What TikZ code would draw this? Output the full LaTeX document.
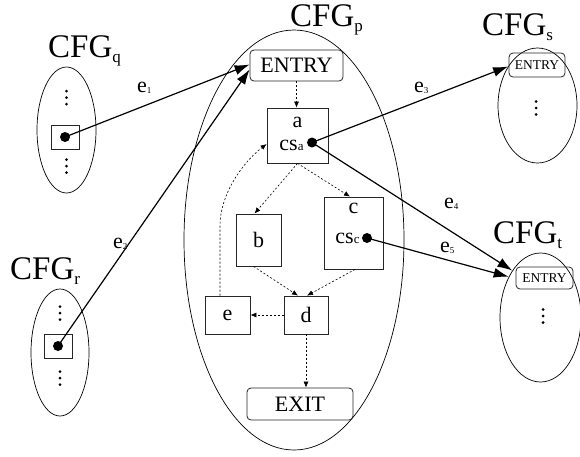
\documentclass[tikz,border=0pt]{standalone}
\usepackage{fontspec}
\setmainfont{Liberation Serif}
\usepackage{tikz}
\usetikzlibrary{arrows.meta,shapes.geometric}

\newcommand{\cfgname}[1]{{\fontsize{33}{33}\selectfont CFG\raisebox{-5pt}{\fontsize{17}{17}\selectfont #1}}}
\newcommand{\edgename}[1]{{\fontsize{22}{22}\selectfont e\raisebox{-1pt}{\fontsize{9}{9}\selectfont #1}}}
\newcommand{\callsite}[1]{cs{\fontsize{13}{13}\selectfont #1}\kern12pt\relax}
\newcommand{\vdotsat}[1]{\foreach \dy in {-6.5,0,6.5} \fill ([yshift=\dy pt]#1) circle (1.5pt);}

\tikzset{
  blk/.style={draw=black!85, line width=0.8pt, inner sep=0pt, font=\fontsize{22}{24}\selectfont},
  rblk/.style={blk, rounded corners=4pt},
  cfg/.style={draw, ellipse, line width=0.7pt, inner sep=0pt},
  lbl/.style={inner sep=0pt, anchor=base west},
  flow/.style={line width=0.6pt, dash pattern=on 2pt off 2pt, -{Latex[length=6pt,width=5pt]}},
  call/.style={line width=1.2pt, -{Latex[length=15pt,width=10pt]}}
}

\begin{document}
\begin{tikzpicture}[x=1pt,y=-1pt]
\useasboundingbox (0,0) rectangle (580,456);

\node[cfg, minimum width=220, minimum height=420] (cfgp) at (294,240) {};
\node[cfg, minimum width=59, minimum height=126] (cfgq) at (66.5,130) {};
\node[cfg, minimum width=58, minimum height=127] (cfgr) at (60,352.5) {};
\node[cfg, minimum width=79, minimum height=115] (cfgs) at (537.5,105.5) {};
\node[cfg, minimum width=81, minimum height=129] (cfgt) at (540.5,317.5) {};

\node[lbl] (namep) at (290,26) {\cfgname{p}};
\node[lbl] (nameq) at (48,57) {\cfgname{q}};
\node[lbl] (namer) at (10,279) {\cfgname{r}};
\node[lbl] (names) at (482,35) {\cfgname{s}};
\node[lbl] (namet) at (493,243) {\cfgname{t}};

\node[rblk, minimum width=93, minimum height=31] (pentry) at (296.5,65.5) {ENTRY};
\node[rblk, minimum width=106, minimum height=32] (pexit) at (300,404) {EXIT};
\node[rblk, minimum width=56, minimum height=24, font=\fontsize{13.5}{14}\selectfont] (sentry) at (537,65) {ENTRY};
\node[rblk, minimum width=57, minimum height=22, font=\fontsize{13.5}{14}\selectfont] (tentry) at (544.5,278) {ENTRY};

\node[blk, minimum width=61, minimum height=55, align=center] (a) at (297.5,135.5) {a\\[-1pt]\callsite{a}\\[-20pt]{}};
\node[blk, minimum width=45, minimum height=52] (b) at (258.5,240) {b};
\node[blk, minimum width=59, minimum height=72, align=center] (c) at (353.5,233) {c\\[6pt]\callsite{c}\\[-4pt]{}};
\node[blk, minimum width=44, minimum height=38] (d) at (306,315) {d};
\node[blk, minimum width=45, minimum height=38] (e) at (227.5,315) {e};

\node[blk, minimum width=28, minimum height=24] (qbox) at (65,137) {};
\node[blk, minimum width=28, minimum height=24] (rbox) at (58,346) {};

\coordinate (csa) at (312,142.5);
\coordinate (csc) at (367,238);

\vdotsat{66.5,97.5}
\vdotsat{66.5,166}
\vdotsat{60,313}
\vdotsat{60,378}
\vdotsat{536,108}
\vdotsat{543,316}

\draw[flow] (pentry.south) -- (pentry.south |- a.north);
\draw[flow] (a.south) -- ([xshift=-4pt]b.north);
\draw[flow] (a.south) -- ([xshift=-3.5pt]c.north);
\draw[flow] ([xshift=-5pt]b.south) -- ([xshift=-8pt]d.north);
\draw[flow] ([xshift=1.5pt]c.south) -- ([xshift=1pt]d.north);
\draw[flow] (d.west) -- (e.east);
\draw[flow] (d.south) -- (d.south |- pexit.north);
\draw[flow] ([xshift=-7.5pt]e.north) -- ++(0,-70) .. controls (220,195) and (242,163) .. ([yshift=-8.5pt]a.west);

\fill (qbox.center) circle (5pt);
\fill (rbox.center) circle (5pt);
\fill (csa) circle (5pt);
\fill (csc) circle (5pt);

\draw[call] (qbox.center) -- ([yshift=1pt]pentry.west);
\draw[call] (rbox.center) -- ([yshift=-4pt]pentry.west);
\draw[call] (csa) -- (cfgs.127);
\draw[call] (csa) -- (cfgt.121);
\draw[call] (csc) -- (cfgt.128);

\node[lbl] (e1) at (137,92) {\edgename{1}};
\node[lbl] (e2) at (113,248) {\edgename{2}};
\node[lbl] (e3) at (414,92) {\edgename{3}};
\node[lbl] (e4) at (444,208) {\edgename{4}};
\node[lbl] (e5) at (440,252) {\edgename{5}};
\end{tikzpicture}
\end{document}
